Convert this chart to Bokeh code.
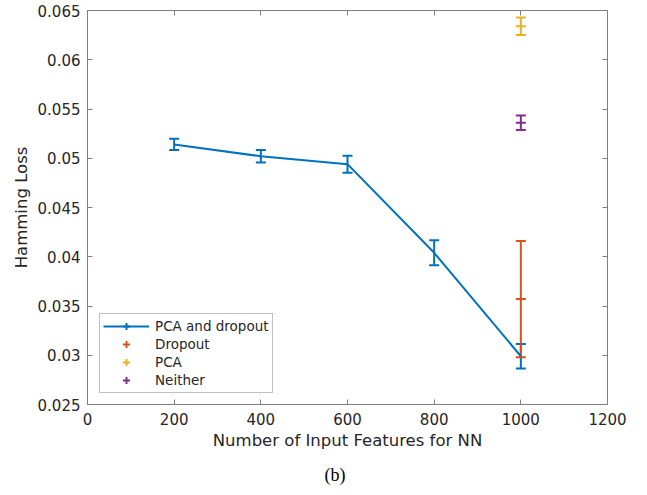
from bokeh.plotting import figure
from bokeh.models import (LinearAxis, FixedTicker, Whisker, TeeHead, ColumnDataSource,
                          Legend, LegendItem, Title, Range1d)
from bokeh.embed import file_html
from bokeh.resources import INLINE

# ---------------- data ----------------
features = [200, 400, 600, 800, 1000]
pca_dropout = [0.0514, 0.0502, 0.0494, 0.0404, 0.0299]
pca_dropout_err = [0.00057, 0.00063, 0.00086, 0.00127, 0.00125]

single_x = [1000]
dropout = [0.0357]
dropout_err = [0.0059]
pca = [0.0634]
pca_err = [0.00088]
neither = [0.0536]
neither_err = [0.00073]

x_ticks = [0, 200, 400, 600, 800, 1000, 1200]
x_tick_labels = ["0", "200", "400", "600", "800", "1000", "1200"]
y_ticks = [0.025, 0.03, 0.035, 0.04, 0.045, 0.05, 0.055, 0.06, 0.065]
y_tick_labels = ["0.025", "0.03", "0.035", "0.04", "0.045", "0.05", "0.055", "0.06", "0.065"]

series_names = ["PCA and dropout", "Dropout", "PCA", "Neither"]
colors = ["#0072BD", "#D95319", "#EDB120", "#7E2F8E"]

x_label = "Number of Input Features for NN"
y_label = "Hamming Loss"
caption = "(b)"

# ---------------- styles ----------------
FONT = "DejaVu Sans"
TEXT = "#262626"
AXIS = "#808080"

p = figure(width=647, height=495, output_backend="svg", toolbar_location=None,
           x_range=Range1d(0, 1200), y_range=Range1d(0.025, 0.065),
           min_border_left=87, min_border_right=40, min_border_top=10,
           min_border_bottom=91, background_fill_color="white",
           border_fill_color="white")
p.outline_line_color = None
p.grid.visible = False

def style_axis(ax, ticks, labels, show_labels=True):
    ax.ticker = FixedTicker(ticks=ticks)
    if show_labels:
        ax.major_label_overrides = {t: l for t, l in zip(ticks, labels)}
    else:
        ax.major_label_overrides = {t: "" for t in ticks}
        ax.major_label_standoff = 0
    ax.minor_tick_line_color = None
    ax.major_tick_in = 5
    ax.major_tick_out = 0
    ax.major_tick_line_color = AXIS
    ax.axis_line_color = AXIS
    ax.major_label_text_font = FONT
    ax.major_label_text_color = TEXT
    ax.major_label_text_font_size = "15px"

xa = p.xaxis[0]
ya = p.yaxis[0]
style_axis(xa, x_ticks, x_tick_labels)
style_axis(ya, y_ticks, y_tick_labels)
xa.major_label_standoff = 8
ya.major_label_standoff = 7
for ax, lab, so in ((xa, x_label, 3), (ya, y_label, 4)):
    ax.axis_label = lab
    ax.axis_label_text_font = FONT
    ax.axis_label_text_font_size = "16.5px"
    ax.axis_label_text_font_style = "normal"
    ax.axis_label_text_color = TEXT
    ax.axis_label_standoff = so

top = LinearAxis()
style_axis(top, x_ticks, x_tick_labels, show_labels=False)
p.add_layout(top, "above")
right = LinearAxis()
style_axis(right, y_ticks, y_tick_labels, show_labels=False)
p.add_layout(right, "right")

# ---------------- marks ----------------
legend_items = []

main_line = p.line(features, pca_dropout, line_color=colors[0], line_width=2)

def add_errorbars(xs, ys, errs, color, center_tick):
    src = ColumnDataSource(dict(
        x=xs, y=ys,
        upper=[y + e for y, e in zip(ys, errs)],
        lower=[y - e for y, e in zip(ys, errs)]))
    w = Whisker(source=src, base="x", upper="upper", lower="lower",
                dimension="height", line_color=color, line_width=2,
                upper_head=TeeHead(size=10, line_color=color, line_width=2),
                lower_head=TeeHead(size=10, line_color=color, line_width=2))
    p.add_layout(w)
    if center_tick:
        p.scatter("x", "y", source=src, marker="dash", size=10,
                  line_color=color, line_width=2)
    # legend icon (size 0 in the plot, sized by legend box)
    icon = p.scatter("x", "y", source=src, marker="cross", size=0,
                     line_color=color, line_width=2)
    return icon

icon0 = add_errorbars(features, pca_dropout, pca_dropout_err, colors[0], False)
legend_items.append(LegendItem(label=series_names[0], renderers=[main_line, icon0]))

for name, ys, errs, c in ((series_names[1], dropout, dropout_err, colors[1]),
                          (series_names[2], pca, pca_err, colors[2]),
                          (series_names[3], neither, neither_err, colors[3])):
    ic = add_errorbars(single_x, ys, errs, c, True)
    legend_items.append(LegendItem(label=name, renderers=[ic]))

legend = Legend(items=legend_items, location=(12, 11), margin=0, padding=3,
                spacing=0, glyph_width=46, glyph_height=18, label_height=18,
                label_standoff=6, label_text_font=FONT,
                label_text_font_size="13.5px", label_text_color=TEXT,
                border_line_color=AXIS, background_fill_color="white",
                background_fill_alpha=1)
p.add_layout(legend)

cap = Title(text=caption, align="left", offset=237, standoff=20,
            text_font="Liberation Serif", text_font_size="18px",
            text_font_style="normal", text_color="black")
p.add_layout(cap, "below")

open("out.html", "w").write(file_html(p, INLINE))
